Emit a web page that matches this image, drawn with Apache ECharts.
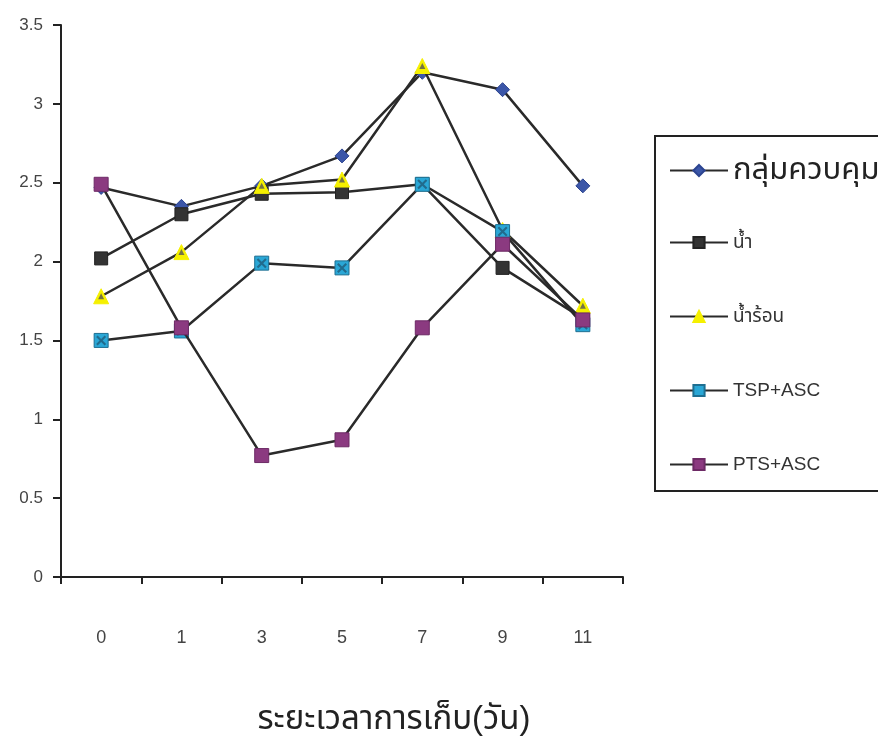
<!DOCTYPE html>
<html><head><meta charset="utf-8">
<script src="https://cdn.jsdelivr.net/npm/echarts@6/dist/echarts.min.js"></script>
<style>html,body{margin:0;padding:0;background:#fff}#c{width:878px;height:741px}</style>
</head><body><div id="c"></div>
<script>
const categories = ['0','1','3','5','7','9','11'];
const seriesNames = ['กลุ่มควบคุม','น้ำ','น้ำร้อน','TSP+ASC','PTS+ASC'];
const control  = [2.47, 2.35, 2.48, 2.67, 3.20, 3.09, 2.48];
const water    = [2.02, 2.30, 2.43, 2.44, 2.49, 1.96, 1.64];
const hotWater = [1.78, 2.06, 2.48, 2.52, 3.24, 2.20, 1.72];
const tspAsc   = [1.50, 1.56, 1.99, 1.96, 2.49, 2.19, 1.60];
const ptsAsc   = [2.49, 1.58, 0.77, 0.87, 1.58, 2.11, 1.63];
const yTicks = [0, 0.5, 1, 1.5, 2, 2.5, 3, 3.5];
const xTitle = 'ระยะเวลาการเก็บ(วัน)';

const font = 'Arial, "Liberation Sans", "Noto Sans Thai", "Noto Sans", sans-serif';
const styles = [
  {symbol:'diamond', size:14, color:'#3b56a8', border:'#2c4490'},
  {symbol:'rect', size:13, color:'#333333', border:'#222222'},
  {symbol:'triangle', size:15, color:'#f5f000', border:'#f5f000'},
  {symbol:'rect', size:14, color:'#2aa7d6', border:'#1e6f91'},
  {symbol:'rect', size:14, color:'#8b3a80', border:'#6d2a65'}
];
const dataSets = [control, water, hotWater, tspAsc, ptsAsc];
const xPath = 'path://M0,1.5L1.5,0L5,3.5L8.5,0L10,1.5L6.5,5L10,8.5L8.5,10L5,6.5L1.5,10L0,8.5L3.5,5Z';

const lineSeries = dataSets.map((d,i)=>({
  name:seriesNames[i], type:'line', data:d, z:2+i,
  symbol:styles[i].symbol, symbolSize:styles[i].size, showSymbol:true,
  lineStyle:{color:'#2a2a2a', width:2.5},
  itemStyle:{color:styles[i].color, borderColor:styles[i].border, borderWidth:1},
  emphasis:{disabled:true}
}));
// inner glyphs of the markers (X on TSP+ASC, small dark triangle on hot water)
const overlay = [
  {type:'scatter', data:tspAsc, symbol:xPath, symbolSize:10, z:5, silent:true,
   itemStyle:{color:'#1f5d7a'}},
  {type:'scatter', data:hotWater, symbol:'triangle', symbolSize:6, z:4, silent:true,
   itemStyle:{color:'#555'}}
];

const chart = echarts.init(document.getElementById('c'), null, {renderer:'canvas'});
chart.setOption({
  animation:false,
  backgroundColor:'#fff',
  grid:{left:61, top:25, right:255, bottom:159},
  xAxis:{
    type:'category', data:categories, boundaryGap:true,
    name:xTitle, nameLocation:'middle', nameGap:126,
    nameTextStyle:{fontSize:33, color:'#222', fontFamily:font, padding:[0,0,0,104]},
    axisLine:{lineStyle:{color:'#222', width:2}},
    axisTick:{show:true, inside:false, length:7, alignWithLabel:false, lineStyle:{color:'#222', width:2}},
    axisLabel:{margin:52, fontSize:18, color:'#444', fontFamily:font},
    splitLine:{show:false}
  },
  yAxis:{
    type:'value', min:0, max:3.5, interval:0.5,
    axisLine:{show:true, lineStyle:{color:'#222', width:2}},
    axisTick:{show:true, inside:false, length:8, lineStyle:{color:'#222', width:2}},
    axisLabel:{margin:18, fontSize:17, color:'#444', fontFamily:font,
      formatter:v => yTicks.indexOf(v) >= 0 ? String(v) : ''},
    splitLine:{show:false}
  },
  legend:[{
    orient:'vertical', left:664, top:150,
    itemWidth:58, itemHeight:14,
    data:[seriesNames[0]],
    textStyle:{fontFamily:font, color:'#222', fontSize:31}
  },{
    orient:'vertical', left:664, top:227, itemGap:53,
    itemWidth:58, itemHeight:14,
    data:seriesNames.slice(1),
    textStyle:{fontFamily:font, color:'#333', fontSize:19, lineHeight:21}
  }],
  graphic:[{type:'rect', shape:{x:655, y:136, width:240, height:355},
    style:{fill:'none', stroke:'#222', lineWidth:2}, z:-1}],
  series: lineSeries.concat(overlay)
});
</script></body></html>
